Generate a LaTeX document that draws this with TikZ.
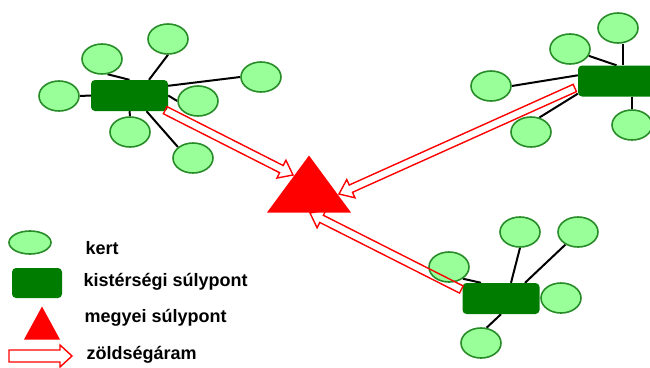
\documentclass[tikz,border=0pt]{standalone}
\usepackage{fontspec}
\setmainfont{Liberation Sans}
\definecolor{kertzold}{RGB}{153,255,153}
\definecolor{kertkeret}{RGB}{40,140,40}
\definecolor{sulyzold}{RGB}{0,125,0}
\definecolor{piros}{RGB}{255,0,0}
\usetikzlibrary{shapes.geometric, calc, backgrounds}

\tikzset{
  kert/.style={ellipse, draw=kertkeret, fill=kertzold, line width=1.6pt, minimum width=40, minimum height=30, inner sep=0pt},
  kisterseg/.style={rectangle, rounded corners=4pt, fill=sulyzold, minimum width=77, minimum height=31, inner sep=0pt},
  megye/.style={isosceles triangle, isosceles triangle stretches, shape border rotate=90, fill=piros, inner sep=0pt},
  kapocs/.style={line width=2pt, black},
  aram/.style={draw=piros, line width=1.4pt, line join=miter},
  jelmagy/.style={anchor=base west, font=\fontsize{18}{20}\selectfont\bfseries}
}

% ures nyil: honnan, hova, fel szarvszelesseg, hegyhossz, fel hegyszelesseg
\newcommand{\aramnyil}[5]{%
  \coordinate (ny-a) at (#1);
  \coordinate (ny-b) at (#2);
  \coordinate (ny-h) at ($(ny-b)!#4!(ny-a)$);
  \draw[aram] ($(ny-a)!#3!90:(ny-b)$) -- ($(ny-h)!#3!90:(ny-b)$) -- ($(ny-h)!#5!90:(ny-b)$)
    -- (ny-b) -- ($(ny-h)!#5!-90:(ny-b)$) -- ($(ny-h)!#3!-90:(ny-b)$) -- ($(ny-a)!#3!-90:(ny-b)$) -- cycle;
}

\begin{document}
\begin{tikzpicture}[x=1pt, y=-1pt]
  \useasboundingbox (0,0) rectangle (650,367);
  \clip (0,0) rectangle (650,367);

  % kisterseg 1
  \node[kisterseg] (h1) at (129.5,95.5) {};
  \node[kert] (e1) at (168,39) {};
  \node[kert] (e2) at (102,59) {};
  \node[kert] (e3) at (59,96) {};
  \node[kert] (e4) at (261,77) {};
  \node[kert] (e5) at (198,101) {};
  \node[kert] (e6) at (130,132) {};
  \node[kert] (e7) at (193,158) {};

  % kisterseg 2
  \node[kisterseg] (h2) at (616.5,81) {};
  \node[kert] (f1) at (618,28) {};
  \node[kert] (f2) at (570,49) {};
  \node[kert] (f3) at (491,86) {};
  \node[kert] (f4) at (531,132) {};
  \node[kert] (f5) at (632,125) {};

  % kisterseg 3
  \node[kisterseg] (h3) at (501,298.5) {};
  \node[kert] (g1) at (520,232) {};
  \node[kert] (g2) at (578,232) {};
  \node[kert] (g3) at (449,267) {};
  \node[kert] (g4) at (561,298) {};
  \node[kert] (g5) at (481,343) {};

  \node[megye, minimum width=84, minimum height=57, anchor=apex] (megye) at (309,155) {};

  \begin{pgfonlayer}{background}
    \draw[kapocs] (e1.south) -- ([xshift=19.5pt]h1.north);
    \draw[kapocs] (e2.-70) -- (h1.north);
    \draw[kapocs] (e3.east) -- (h1.west);
    \draw[kapocs] ([yshift=-6pt]h1.north east) -- (e4.west);
    \draw[kapocs] (h1.east) -- (e5.west);
    \draw[kapocs] (h1.south) -- (e6.north);
    \draw[kapocs] ([xshift=17pt]h1.south) -- (e7.144);
    \draw[kapocs] ([xshift=5pt]f1.south) -- ([xshift=6.5pt]h2.north);
    \draw[kapocs] (f2.-20) -- (h2.north);
    \draw[kapocs] (f3.east) -- ([yshift=-10pt]h2.north west);
    \draw[kapocs] (f4.60) -- ([yshift=3pt]h2.south west);
    \draw[kapocs] (h2.south -| f5.north) -- (f5.north);
    \draw[kapocs] (g1.south) -- ([xshift=10pt]h3.north);
    \draw[kapocs] (g2.225) -- ([xshift=24pt]h3.north);
    \draw[kapocs] (g3.-40) -- ([xshift=-20pt]h3.north);
    \draw[kapocs] (g5.70) -- (h3.south);
  \end{pgfonlayer}

  % zoldsegaram
  \coordinate (nyA1) at ([xshift=-3pt,yshift=1pt]h1.south east);
  \coordinate (nyA2) at (293,175);
  \coordinate (nyB1) at ([xshift=-3pt,yshift=-7pt]h2.west);
  \coordinate (nyB2) at (339,194);
  \coordinate (nyC1) at ([xshift=-1pt,yshift=9pt]h3.west);
  \coordinate (nyC2) at (310,213);
  \aramnyil{nyA1}{nyA2}{4pt}{13pt}{10pt}
  \aramnyil{nyB1}{nyB2}{4pt}{13pt}{10pt}
  \aramnyil{nyC1}{nyC2}{4pt}{13pt}{10pt}

  % jelmagyarazat
  \node[kert, minimum width=42, minimum height=23] (jk) at (30,242.5) {};
  \node[kisterseg, minimum width=50, minimum height=30] (jh) at (37,283) {};
  \node[megye, minimum width=36, minimum height=33, anchor=apex] (jm) at (42,306) {};
  \coordinate (ja1) at (9,356);
  \coordinate (ja2) at (72,356);
  \aramnyil{ja1}{ja2}{6pt}{12pt}{11pt}
  \node[jelmagy] (tk) at (82,254) {kert};
  \node[jelmagy] (th) at (80,286) {kistérségi súlypont};
  \node[jelmagy] (tm) at (81,322) {megyei súlypont};
  \node[jelmagy] (ta) at (83,359) {zöldségáram};
\end{tikzpicture}
\end{document}
